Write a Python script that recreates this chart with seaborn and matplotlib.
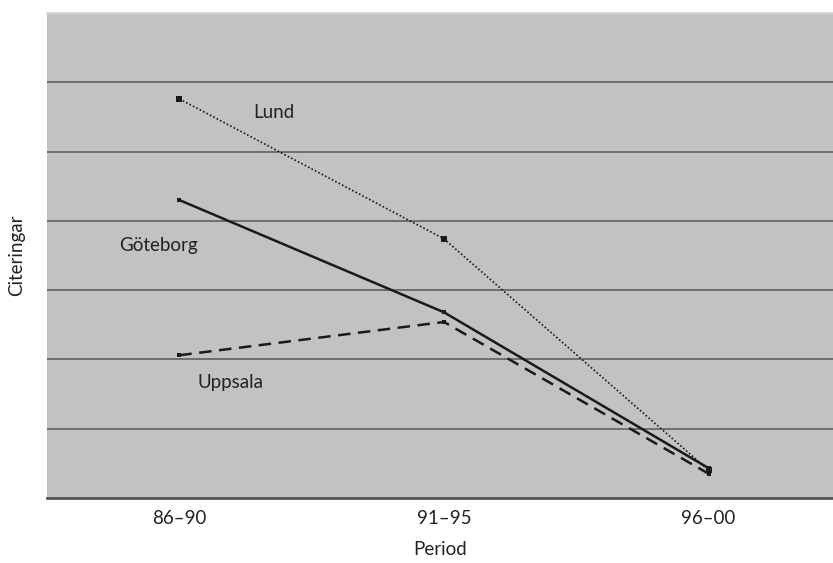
import pandas as pd
import seaborn as sns
import matplotlib.pyplot as plt

perioder = ['86–90', '91–95', '96–00']
lund = [5.76, 3.74, 0.40]
goteborg = [4.30, 2.68, 0.43]
uppsala = [2.06, 2.54, 0.35]

df = pd.DataFrame({
    'Period': perioder * 3,
    'Citeringar': lund + goteborg + uppsala,
    'stad': ['Lund'] * 3 + ['Göteborg'] * 3 + ['Uppsala'] * 3,
})

sns.set_style('white')
plt.rcParams['font.family'] = ['Lato', 'DejaVu Sans']

fig = plt.figure(figsize=(8.33, 5.63), dpi=100)
ax = fig.add_axes([0.0564, 0.1155, 0.9436, 0.8615])
ax.set_facecolor('#c2c2c2')

stilar = {
    'Lund': dict(linestyle=(0, (1, 1.3)), linewidth=1.2, marker='s', markersize=4),
    'Göteborg': dict(linestyle='-', linewidth=1.8, marker='s', markersize=2.5),
    'Uppsala': dict(linestyle=(0, (5, 3)), linewidth=1.8, marker='s', markersize=3.5),
}
for stad, stil in stilar.items():
    d = df[df['stad'] == stad]
    sns.lineplot(data=d, x='Period', y='Citeringar', ax=ax, color='#1a1a1a',
                 markeredgewidth=0, zorder=3, **stil)

ax.set_xlim(-0.5, 2.47)
ax.set_ylim(0, 7)
ax.set_yticks(range(1, 7))
ax.set_yticklabels([])
ax.tick_params(axis='y', length=0)
ax.tick_params(axis='x', length=0, labelsize=13.5, pad=9, colors='#222222')
ax.grid(axis='y', color='#6e6e6e', linewidth=1.4)
ax.grid(axis='x', visible=False)

for s in ['right', 'left']:
    ax.spines[s].set_visible(False)
ax.spines['top'].set_color('#d8d8d8')
ax.spines['top'].set_linewidth(1.5)
ax.spines['bottom'].set_color('#555555')
ax.spines['bottom'].set_linewidth(2)

ax.text(0.28, 5.57, 'Lund', fontsize=13.5, va='center', color='#222222')
ax.text(-0.226, 3.65, 'Göteborg', fontsize=13.5, va='center', color='#222222')
ax.text(0.068, 1.66, 'Uppsala', fontsize=13.5, va='center', color='#222222')

ax.set_xlabel('Period', fontsize=13.5, labelpad=10, color='#222222')
ax.set_ylabel('Citeringar', fontsize=13.5, labelpad=12, color='#222222')

fig.savefig('out.png', dpi=100)
